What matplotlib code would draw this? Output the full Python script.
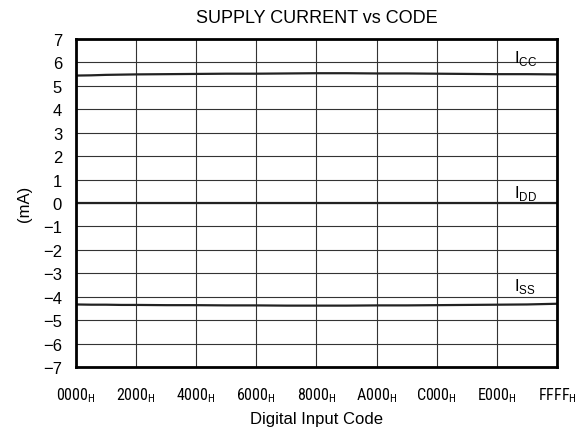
import matplotlib
matplotlib.use("Agg")
import matplotlib.pyplot as plt
from matplotlib import font_manager

# supply current vs digital input code
codes = [0x0000, 0x0800, 0x1000, 0x1800, 0x2000, 0x3000, 0x4000, 0x5000, 0x6000,
         0x7000, 0x8000, 0x9000, 0xA000, 0xB000, 0xC000, 0xD000, 0xE000, 0xF000, 0xFFFF]
icc = [5.44, 5.45, 5.47, 5.48, 5.49, 5.50, 5.51, 5.52, 5.52,
       5.53, 5.54, 5.54, 5.53, 5.53, 5.52, 5.51, 5.50, 5.50, 5.49]
idd = [0.0] * len(codes)
iss = [-4.33, -4.34, -4.34, -4.35, -4.35, -4.36, -4.36, -4.37, -4.37,
       -4.38, -4.38, -4.38, -4.37, -4.37, -4.36, -4.35, -4.34, -4.33, -4.30]

xticks = [0x0000, 0x2000, 0x4000, 0x6000, 0x8000, 0xA000, 0xC000, 0xE000, 0xFFFF]
xtick_text = ["0000", "2000", "4000", "6000", "8000", "A000", "C000", "E000", "FFFF"]
yticks = list(range(-7, 8))

# condensed face for the hex code labels, if one is around
names = {f.name for f in font_manager.fontManager.ttflist}
narrow = "Liberation Sans"
for cand in ["Liberation Sans Narrow", "Arial Narrow", "Roboto Condensed", "Open Sans Condensed"]:
    if cand in names:
        narrow = cand
        break

plt.rcParams["font.family"] = ["Liberation Sans", "DejaVu Sans"]
plt.rcParams["mathtext.fontset"] = "custom"
plt.rcParams["mathtext.rm"] = narrow
plt.rcParams["mathtext.sf"] = "Liberation Sans"

fig = plt.figure(figsize=(5.85, 4.35), dpi=100)
ax = fig.add_axes([0.1299, 0.154, 0.8222, 0.754])

ax.plot(codes, icc, color="#222222", lw=1.6, solid_capstyle="butt")
ax.plot(codes, idd, color="#222222", lw=1.6, solid_capstyle="butt")
ax.plot(codes, iss, color="#222222", lw=1.6, solid_capstyle="butt")

ax.set_xlim(0, 0xFFFF)
ax.set_ylim(-7, 7)
ax.set_xticks(xticks)
ax.set_xticklabels([r"$\mathrm{%s}_{\mathrm{H}}$" % t for t in xtick_text], fontsize=11.5)
ax.set_yticks(yticks)
ax.set_yticklabels([("\u2212%d" % -v) if v < 0 else str(v) for v in yticks], fontsize=12)
ax.tick_params(length=0)
ax.tick_params(axis="y", pad=10)
ax.tick_params(axis="x", pad=13)

ax.grid(True, color="#333333", lw=0.8)
ax.set_axisbelow(True)
for s in ax.spines.values():
    s.set_linewidth(2.0)
    s.set_color("black")

lx = 0xE900
ax.text(lx, 6.0, r"$\mathsf{I}_{\mathsf{CC}}$", fontsize=12, ha="left", va="baseline")
ax.text(lx, 0.25, r"$\mathsf{I}_{\mathsf{DD}}$", fontsize=12, ha="left", va="baseline")
ax.text(lx, -3.7, r"$\mathsf{I}_{\mathsf{SS}}$", fontsize=12, ha="left", va="baseline")

ax.set_title("SUPPLY CURRENT vs CODE", fontsize=13, pad=12)
ax.set_xlabel("Digital Input Code", fontsize=12, labelpad=5)
ax.set_ylabel("(mA)", fontsize=12, labelpad=8)

fig.savefig("out.png", dpi=100)
plt.close(fig)
